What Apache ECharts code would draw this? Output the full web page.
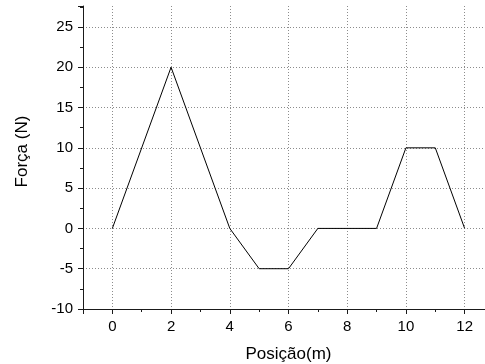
<!DOCTYPE html>
<html>
<head>
<meta charset="utf-8">
<script src="https://cdn.jsdelivr.net/npm/echarts@6/dist/echarts.min.js"></script>
<style>
  html, body { margin: 0; padding: 0; background: #fff; }
  #chart { width: 485px; height: 364px; }
</style>
</head>
<body>
<div id="chart"></div>
<script>
// posição (m) vs força (N)
const posicoes = [0, 2, 4, 5, 6, 7, 9, 10, 11, 12]
const forcas = [0, 20, 0, -5, -5, 0, 0, 10, 10, 0]

const font = "'Liberation Sans', Arial, sans-serif"
const axisColor = '#1a1a1a'
const gridColor = '#8c8c8c'

const chart = echarts.init(document.getElementById('chart'))

chart.setOption({
  animation: false,
  backgroundColor: '#fff',
  // plot runs past the right edge of the picture (x max = 13 is cut off)
  grid: { left: 83, width: 411, top: 6, bottom: 55, containLabel: false, outerBoundsMode: 'none' },
  xAxis: {
    type: 'value',
    min: -1,
    max: 13,
    splitNumber: 7,
    minInterval: 2,
    maxInterval: 2,
    name: 'Posição(m)',
    nameLocation: 'middle',
    nameGap: 37,
    nameTextStyle: { fontFamily: font, fontSize: 17, color: '#000' },
    axisLine: { onZero: false, lineStyle: { color: axisColor, width: 1 } },
    axisTick: { show: true, inside: false, length: 5, lineStyle: { color: axisColor } },
    minorTick: { show: true, splitNumber: 2, length: 3, lineStyle: { color: axisColor } },
    axisLabel: {
      margin: 10,
      fontFamily: font,
      fontSize: 15,
      color: '#000',
      showMinLabel: false,
      showMaxLabel: false,
    },
    splitLine: {
      show: true,
      showMinLine: false,
      showMaxLine: false,
      lineStyle: { color: gridColor, width: 1, type: [1, 2] },
    },
  },
  yAxis: {
    type: 'value',
    min: -10,
    max: 27.6,
    interval: 5,
    name: 'Força (N)',
    nameLocation: 'middle',
    nameGap: 52,
    nameTextStyle: { fontFamily: font, fontSize: 17, color: '#000', padding: [0, 0, 0, 12] },
    axisLine: { show: true, onZero: false, lineStyle: { color: axisColor, width: 1 } },
    axisTick: { show: true, inside: false, length: 5, lineStyle: { color: axisColor } },
    minorTick: { show: true, splitNumber: 2, length: 3, lineStyle: { color: axisColor } },
    axisLabel: {
      margin: 10,
      fontFamily: font,
      fontSize: 15,
      color: '#000',
      showMaxLabel: false,
    },
    splitLine: {
      show: true,
      showMinLine: false,
      showMaxLine: false,
      lineStyle: { color: gridColor, width: 1, type: [1, 2] },
    },
  },
  series: [
    {
      type: 'line',
      data: posicoes.map((x, i) => [x, forcas[i]]),
      symbol: 'none',
      lineStyle: { color: '#000', width: 1 },
      clip: false,
    },
  ],
})
</script>
</body>
</html>
